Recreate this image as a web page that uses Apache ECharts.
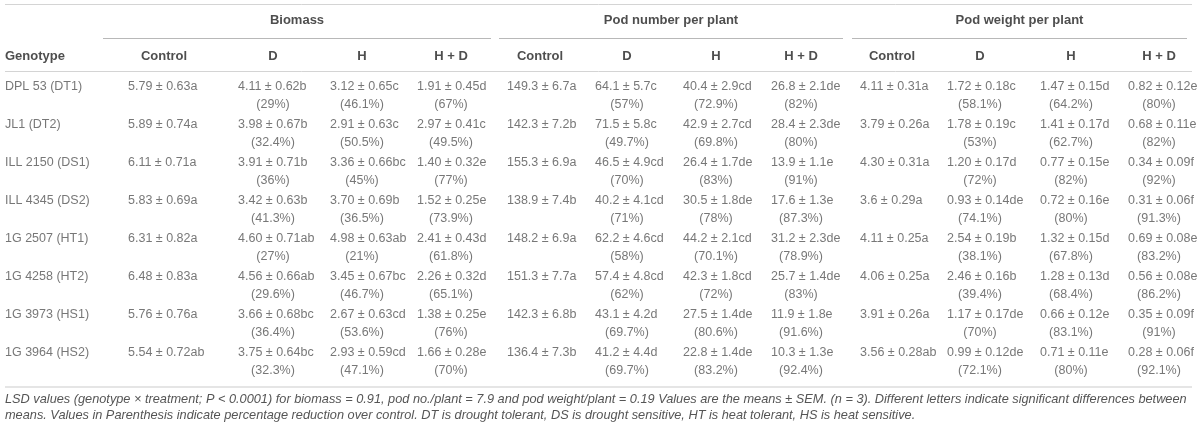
<!DOCTYPE html>
<html>
	<head>
		<meta charset="utf-8">
		<title>Biomass and pod traits under heat and drought</title>
		<style>
			html, body { margin: 0; padding: 0; background: #fff; }
			#tableChart { width: 1200px; height: 426px; }
		</style>
	</head>
	<body>
		<div id="tableChart"></div>
		<script src="https://cdn.jsdelivr.net/npm/echarts@6/dist/echarts.min.js"></script>
		<script>
			// table content
			var traits = ['Biomass', 'Pod number per plant', 'Pod weight per plant'];
			var treatments = ['Control', 'D', 'H', 'H + D'];
			var genotypes = ['DPL 53 (DT1)', 'JL1 (DT2)', 'ILL 2150 (DS1)', 'ILL 4345 (DS2)',
				'1G 2507 (HT1)', '1G 4258 (HT2)', '1G 3973 (HS1)', '1G 3964 (HS2)'];

			// mean ± SEM with letters: Control, D, H, H + D
			var biomassVals = [
				['5.79 ± 0.63a', '4.11 ± 0.62b', '3.12 ± 0.65c', '1.91 ± 0.45d'],
				['5.89 ± 0.74a', '3.98 ± 0.67b', '2.91 ± 0.63c', '2.97 ± 0.41c'],
				['6.11 ± 0.71a', '3.91 ± 0.71b', '3.36 ± 0.66bc', '1.40 ± 0.32e'],
				['5.83 ± 0.69a', '3.42 ± 0.63b', '3.70 ± 0.69b', '1.52 ± 0.25e'],
				['6.31 ± 0.82a', '4.60 ± 0.71ab', '4.98 ± 0.63ab', '2.41 ± 0.43d'],
				['6.48 ± 0.83a', '4.56 ± 0.66ab', '3.45 ± 0.67bc', '2.26 ± 0.32d'],
				['5.76 ± 0.76a', '3.66 ± 0.68bc', '2.67 ± 0.63cd', '1.38 ± 0.25e'],
				['5.54 ± 0.72ab', '3.75 ± 0.64bc', '2.93 ± 0.59cd', '1.66 ± 0.28e']
			];
			// reduction over control: D, H, H + D
			var biomassPct = [
				['29%', '46.1%', '67%'], ['32.4%', '50.5%', '49.5%'], ['36%', '45%', '77%'], ['41.3%', '36.5%', '73.9%'],
				['27%', '21%', '61.8%'], ['29.6%', '46.7%', '65.1%'], ['36.4%', '53.6%', '76%'], ['32.3%', '47.1%', '70%']
			];
			var podNumVals = [
				['149.3 ± 6.7a', '64.1 ± 5.7c', '40.4 ± 2.9cd', '26.8 ± 2.1de'],
				['142.3 ± 7.2b', '71.5 ± 5.8c', '42.9 ± 2.7cd', '28.4 ± 2.3de'],
				['155.3 ± 6.9a', '46.5 ± 4.9cd', '26.4 ± 1.7de', '13.9 ± 1.1e'],
				['138.9 ± 7.4b', '40.2 ± 4.1cd', '30.5 ± 1.8de', '17.6 ± 1.3e'],
				['148.2 ± 6.9a', '62.2 ± 4.6cd', '44.2 ± 2.1cd', '31.2 ± 2.3de'],
				['151.3 ± 7.7a', '57.4 ± 4.8cd', '42.3 ± 1.8cd', '25.7 ± 1.4de'],
				['142.3 ± 6.8b', '43.1 ± 4.2d', '27.5 ± 1.4de', '11.9 ± 1.8e'],
				['136.4 ± 7.3b', '41.2 ± 4.4d', '22.8 ± 1.4de', '10.3 ± 1.3e']
			];
			var podNumPct = [
				['57%', '72.9%', '82%'], ['49.7%', '69.8%', '80%'], ['70%', '83%', '91%'], ['71%', '78%', '87.3%'],
				['58%', '70.1%', '78.9%'], ['62%', '72%', '83%'], ['69.7%', '80.6%', '91.6%'], ['69.7%', '83.2%', '92.4%']
			];
			var podWtVals = [
				['4.11 ± 0.31a', '1.72 ± 0.18c', '1.47 ± 0.15d', '0.82 ± 0.12e'],
				['3.79 ± 0.26a', '1.78 ± 0.19c', '1.41 ± 0.17d', '0.68 ± 0.11e'],
				['4.30 ± 0.31a', '1.20 ± 0.17d', '0.77 ± 0.15e', '0.34 ± 0.09f'],
				['3.6 ± 0.29a', '0.93 ± 0.14de', '0.72 ± 0.16e', '0.31 ± 0.06f'],
				['4.11 ± 0.25a', '2.54 ± 0.19b', '1.32 ± 0.15d', '0.69 ± 0.08e'],
				['4.06 ± 0.25a', '2.46 ± 0.16b', '1.28 ± 0.13d', '0.56 ± 0.08e'],
				['3.91 ± 0.26a', '1.17 ± 0.17de', '0.66 ± 0.12e', '0.35 ± 0.09f'],
				['3.56 ± 0.28ab', '0.99 ± 0.12de', '0.71 ± 0.11e', '0.28 ± 0.06f']
			];
			var podWtPct = [
				['58.1%', '64.2%', '80%'], ['53%', '62.7%', '82%'], ['72%', '82%', '92%'], ['74.1%', '80%', '91.3%'],
				['38.1%', '67.8%', '83.2%'], ['39.4%', '68.4%', '86.2%'], ['70%', '83.1%', '91%'], ['72.1%', '80%', '92.1%']
			];
			var footnote = [
				'LSD values (genotype × treatment; P < 0.0001) for biomass = 0.91, pod no./plant = 7.9 and pod weight/plant = 0.19 Values are the means ± SEM. (n = 3). Different letters indicate significant differences between',
				'means. Values in Parenthesis indicate percentage reduction over control. DT is drought tolerant, DS is drought sensitive, HT is heat tolerant, HS is heat sensitive.'
			];
		</script>
		<script>
			// layout (pixel units of the hidden axes)
			var colCenter = [[164, 273, 362, 451], [540, 627, 716, 801], [892, 980, 1071, 1159]];
			var valLeft = [[128, 238, 330, 417], [507, 595, 683, 771], [860, 947, 1040, 1128]];
			var groupSpan = [[103, 491], [499, 843], [852, 1187]];
			var rowTop = 87, rowStep = 38, pctGap = 18;

			var allVals = [biomassVals, podNumVals, podWtVals];
			var allPct = [biomassPct, podNumPct, podWtPct];

			var groupData = [], headData = [{ name: 'Genotype', value: [5, 56] }];
			var genoData = [], valData = [], pctData = [];
			traits.forEach(function(t, g) {
				groupData.push({ name: t, value: [(groupSpan[g][0] + groupSpan[g][1]) / 2, 20] });
				treatments.forEach(function(tr, j) {
					headData.push({ name: tr, value: [colCenter[g][j], 56] });
				});
			});
			genotypes.forEach(function(gen, i) {
				var y = rowTop + rowStep * i;
				genoData.push({ name: gen, value: [5, y] });
				for (var g = 0; g < 3; g++) {
					for (var j = 0; j < 4; j++) {
						valData.push({ name: allVals[g][i][j], value: [valLeft[g][j], y] });
						if (j > 0) {
							pctData.push({ name: '(' + allPct[g][i][j - 1] + ')', value: [colCenter[g][j], y + pctGap] });
						}
					}
				}
			});

			var rules = [
				[{ coord: [5, 4.5], lineStyle: { color: '#d4d4d4' } }, { coord: [1192, 4.5] }],
				[{ coord: [5, 71.5], lineStyle: { color: '#d4d4d4' } }, { coord: [1192, 71.5] }],
				[{ coord: [5, 386.5], lineStyle: { color: '#dcdcdc', width: 1.5 } }, { coord: [1192, 386.5] }]
			];
			groupSpan.forEach(function(s) {
				rules.push([{ coord: [s[0], 38.5], lineStyle: { color: '#b8b8b8' } }, { coord: [s[1], 38.5] }]);
			});

			var fontFam = '"Liberation Sans", Arial, Helvetica, sans-serif';
			function textSeries(data, align, size, weight, color, extra) {
				return {
					type: 'scatter',
					symbolSize: 1,
					itemStyle: { color: 'transparent' },
					silent: true,
					data: data,
					label: {
						show: true,
						position: 'inside',
						align: align,
						verticalAlign: 'middle',
						formatter: '{b}',
						fontFamily: fontFam,
						fontSize: size,
						fontWeight: weight,
						color: color
					},
					markLine: extra
				};
			}

			var optionTable = {
				animation: false,
				backgroundColor: '#fff',
				title: {
					left: 5,
					top: 391,
					padding: 0,
					text: footnote.join('\n'),
					textStyle: {
						fontFamily: fontFam,
						fontSize: 12.75,
						fontStyle: 'italic',
						fontWeight: 'normal',
						color: '#555',
						lineHeight: 16
					}
				},
				grid: { left: 0, right: 0, top: 0, bottom: 0 },
				xAxis: { type: 'value', min: 0, max: 1200, show: false },
				yAxis: { type: 'value', min: 0, max: 426, inverse: true, show: false },
				series: [
					textSeries(groupData, 'center', 13, 'bold', '#222', {
						symbol: 'none',
						silent: true,
						label: { show: false },
						lineStyle: { type: 'solid', width: 1 },
						data: rules
					}),
					textSeries(headData.slice(0, 1), 'left', 13, 'bold', '#222'),
					textSeries(headData.slice(1), 'center', 13, 'bold', '#222'),
					textSeries(genoData, 'left', 12.5, 'normal', '#555'),
					textSeries(valData, 'left', 12.5, 'normal', '#555'),
					textSeries(pctData, 'center', 12.5, 'normal', '#555')
				]
			};

			var chartTable = echarts.init(document.getElementById('tableChart'));
			chartTable.setOption(optionTable);
		</script>
	</body>
</html>
